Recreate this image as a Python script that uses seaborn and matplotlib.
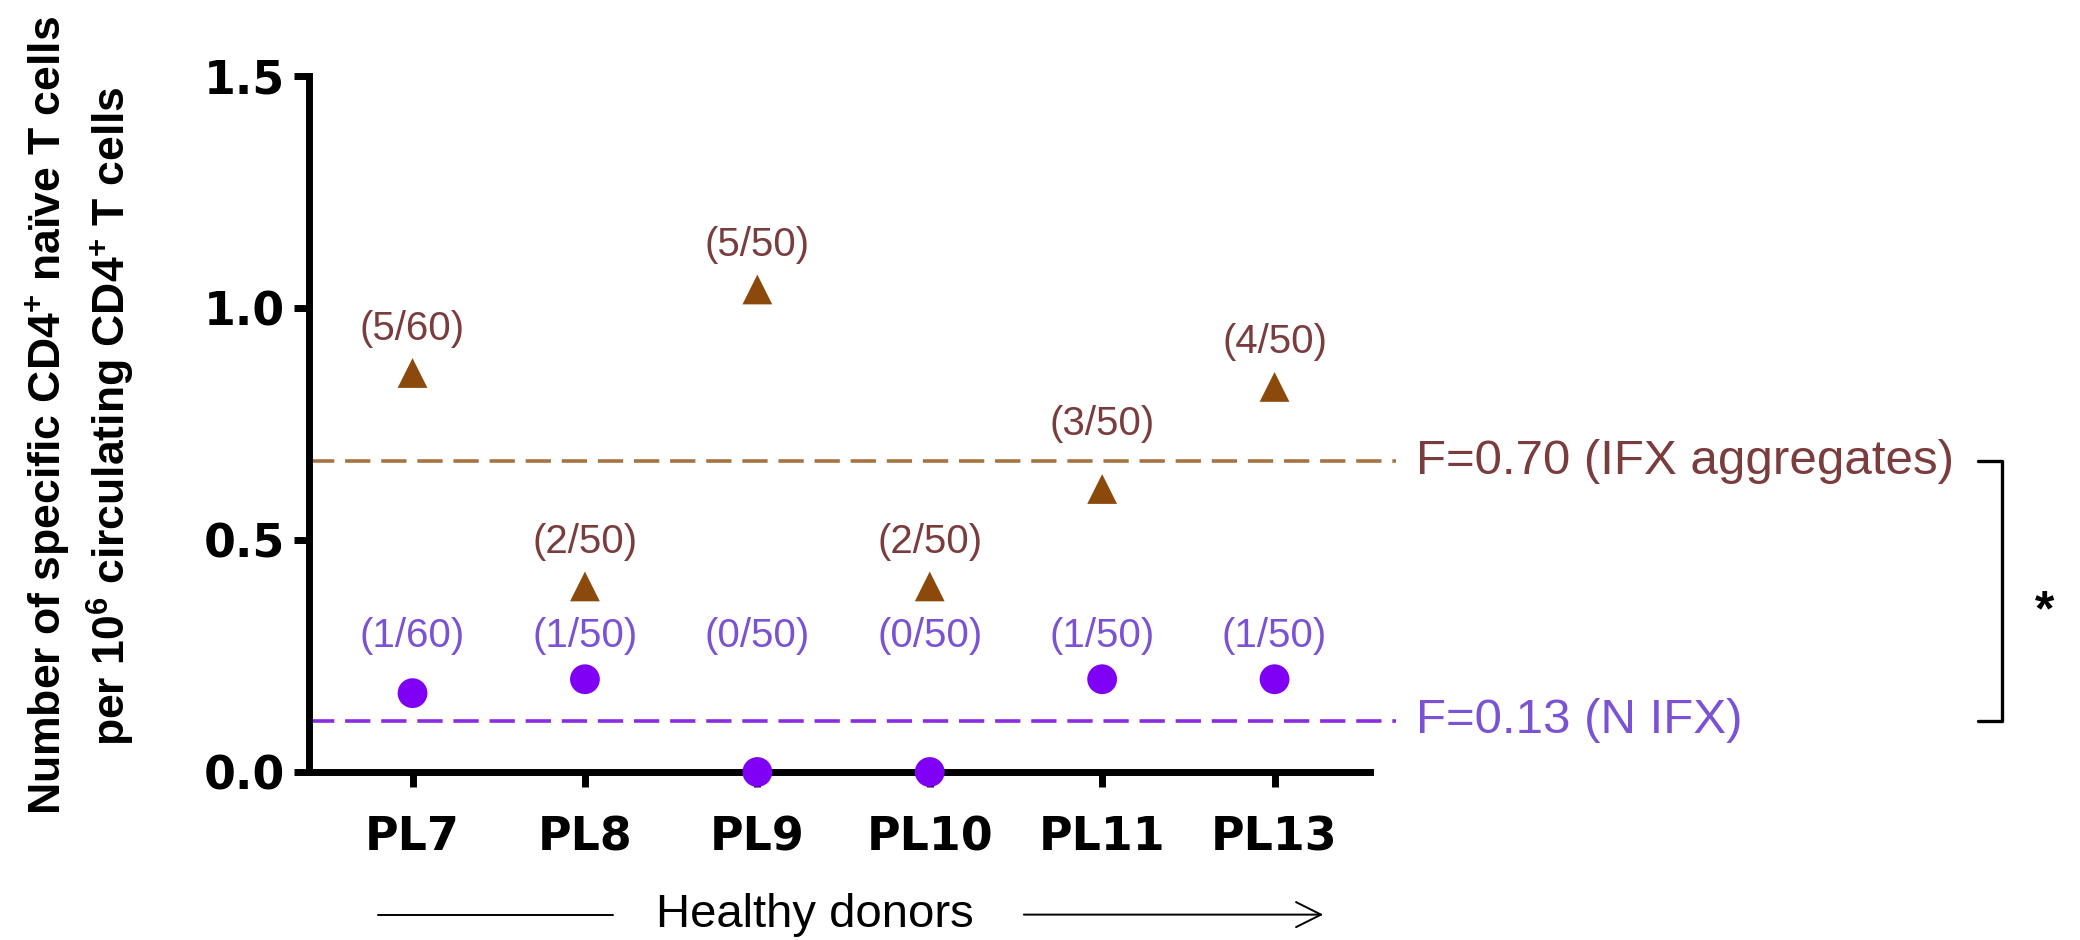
import pandas as pd
import matplotlib.pyplot as plt
import seaborn as sns
from matplotlib.lines import Line2D
from matplotlib.transforms import blended_transform_factory

# values
donors = ["PL7", "PL8", "PL9", "PL10", "PL11", "PL13"]
ifx_agg = [0.86, 0.40, 1.04, 0.40, 0.61, 0.83]
n_ifx = [0.17, 0.20, 0.00, 0.00, 0.20, 0.20]
ifx_agg_counts = ["(5/60)", "(2/50)", "(5/50)", "(2/50)", "(3/50)", "(4/50)"]
n_ifx_counts = ["(1/60)", "(1/50)", "(0/50)", "(0/50)", "(1/50)", "(1/50)"]
ifx_agg_mean = 0.67
n_ifx_mean = 0.11
ifx_agg_text = "F=0.70 (IFX aggregates)"
n_ifx_text = "F=0.13 (N IFX)"
y_ticks = [0.0, 0.5, 1.0, 1.5]

BROWN = "#8b4a0c"
BROWN_TXT = "#7a3c3c"
BROWN_LINE = "#a67440"
PURPLE = "#7f00f5"
PURPLE_TXT = "#7b52d4"
PURPLE_LINE = "#8a2be2"

sns.set_theme(style="ticks", rc={
    "axes.edgecolor": "black", "text.color": "black", "axes.labelcolor": "black",
    "xtick.color": "black", "ytick.color": "black",
})
plt.rcParams["font.family"] = ["Liberation Sans", "DejaVu Sans"]
plt.rcParams["mathtext.default"] = "regular"

df = pd.DataFrame({
    "donor": donors * 2,
    "value": ifx_agg + n_ifx,
    "group": ["IFX aggregates"] * len(donors) + ["N IFX"] * len(donors),
})

fig = plt.figure(figsize=(20.8, 9.4), dpi=100)
ax = fig.add_axes([0.1486, 0.1787, 0.5226, 0.7404])

sns.scatterplot(data=df, x="donor", y="value", hue="group", style="group",
                markers={"IFX aggregates": "^", "N IFX": "o"},
                palette={"IFX aggregates": BROWN, "N IFX": PURPLE},
                s=460, linewidth=0, legend=False, ax=ax, zorder=4, clip_on=False)

# group means as dashed lines
ax.axhline(ifx_agg_mean, color=BROWN_LINE, lw=2.6, dashes=(7, 3), zorder=1)
ax.axhline(n_ifx_mean, color=PURPLE_LINE, lw=2.6, dashes=(7, 3), zorder=1)

# counts above each point
for i, lbl in enumerate(ifx_agg_counts):
    lift = 47 if donors[i] == "PL11" else 32
    ax.annotate(lbl, xy=(i, ifx_agg[i]), xytext=(0, lift), textcoords="offset points",
                ha="center", va="center", fontsize=29, color=BROWN_TXT)
for i, lbl in enumerate(n_ifx_counts):
    ax.annotate(lbl, xy=(i, max(n_ifx)), xytext=(0, 31), textcoords="offset points",
                ha="center", va="center", fontsize=29, color=PURPLE_TXT)

ax.annotate(ifx_agg_text, xy=(1, ifx_agg_mean), xycoords=("axes fraction", "data"),
            xytext=(20, 0), textcoords="offset pixels", ha="left", va="center",
            fontsize=35.5, color=BROWN_TXT, annotation_clip=False)
ax.annotate(n_ifx_text, xy=(1, n_ifx_mean), xycoords=("axes fraction", "data"),
            xytext=(20, 0), textcoords="offset pixels", ha="left", va="center",
            fontsize=35.5, color=PURPLE_TXT, annotation_clip=False)

# significance bracket
trans = blended_transform_factory(fig.transFigure, ax.transData)
fig.add_artist(Line2D([0.951, 0.9625, 0.9625, 0.951],
                      [ifx_agg_mean, ifx_agg_mean, n_ifx_mean, n_ifx_mean],
                      transform=trans, color="black", lw=2.4))
fig.text(0.983, (ifx_agg_mean + n_ifx_mean) / 2 - 0.045, "*", transform=trans,
         ha="center", va="center", fontsize=36, fontweight="bold")

# axes styling
ax.set_xlim(-0.6, 5.705)
ax.set_ylim(0, 1.5)
ax.set_yticks(y_ticks)
ax.set_yticklabels([f"{t:.1f}" for t in y_ticks], fontsize=33, fontweight="bold",
                   family="DejaVu Sans")
ax.set_xticks(range(len(donors)))
ax.set_xticklabels(donors, fontsize=33, fontweight="bold", family="DejaVu Sans")
ax.tick_params(axis="y", length=11, width=5, pad=6)
ax.tick_params(axis="x", length=11, width=5, pad=20)
sns.despine(ax=ax)
for side in ["left", "bottom"]:
    ax.spines[side].set_linewidth(5)
ax.spines["bottom"].set_bounds(-0.6, 5.554)
ax.set_xlabel("")
ax.set_ylabel("Number of specific CD4$^{+}$ naïve T cells\n"
              "per 10$^{6}$ circulating CD4$^{+}$ T cells",
              fontsize=32, fontweight="bold", linespacing=1.33)
ax.yaxis.set_label_coords(-0.158, 0.512)

# "Healthy donors" arrow under the axis
fig.text(0.392, 0.027, "Healthy donors", ha="center", va="center", fontsize=34)
fig.add_artist(Line2D([0.1817, 0.2947], [0.027, 0.027], color="black", lw=1.4))
ax.annotate("", xy=(0.6375, 0.027), xytext=(0.4909, 0.027), xycoords="figure fraction",
            arrowprops=dict(arrowstyle="->", lw=1.4, mutation_scale=45, color="black"))

fig.savefig("out.png", dpi=100)
